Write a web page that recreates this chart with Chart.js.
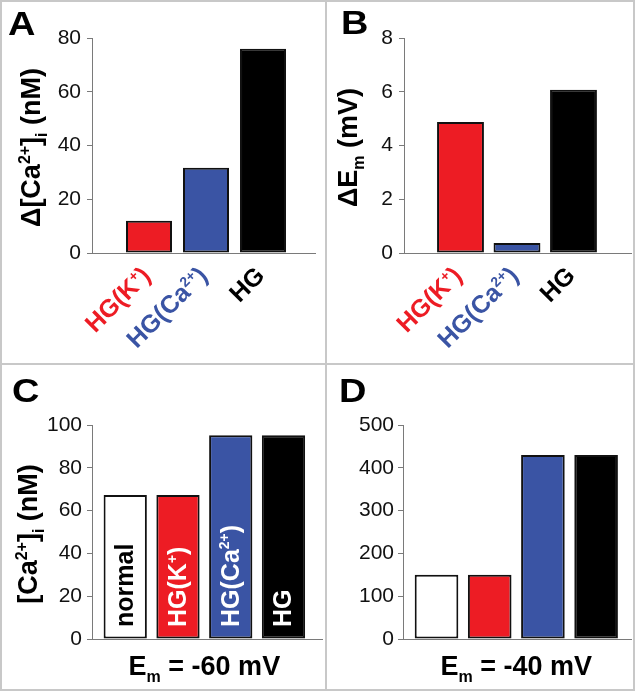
<!DOCTYPE html>
<html><head><meta charset="utf-8">
<script src="https://cdn.jsdelivr.net/npm/chart.js@4"></script>
<style>
html,body{margin:0;padding:0;background:#fff;}
#fig{position:relative;width:638px;height:692px;background:#fff;overflow:hidden;}
#fig canvas{position:absolute;}
.rule{position:absolute;background:#c8c8c8;}
</style></head><body>
<div id="fig">
<canvas id="cA" width="323" height="361" style="left:2px;top:2px;width:323px;height:361px"></canvas>
<canvas id="cB" width="306" height="361" style="left:327px;top:2px;width:306px;height:361px"></canvas>
<canvas id="cC" width="323" height="324" style="left:2px;top:365px;width:323px;height:324px"></canvas>
<canvas id="cD" width="306" height="324" style="left:327px;top:365px;width:306px;height:324px"></canvas>
<div class="rule" style="left:0;top:0;width:635px;height:2px"></div>
<div class="rule" style="left:0;top:0;width:2px;height:691px"></div>
<div class="rule" style="left:633px;top:0;width:2px;height:691px"></div>
<div class="rule" style="left:0;top:689px;width:635px;height:2px"></div>
<div class="rule" style="left:325px;top:0;width:2px;height:691px"></div>
<div class="rule" style="left:0;top:363px;width:635px;height:2px"></div>
</div>
<script>
// ---------------- data ----------------
const categoriesAB = ['HG(K^{+})', 'HG(Ca^{2+})', 'HG'];
const categoriesCD = ['normal', 'HG(K^{+})', 'HG(Ca^{2+})', 'HG'];
const deltaCaValues = [12, 31.7, 76];          // panel A, nM
const deltaEmValues = [4.87, 0.37, 6.07];      // panel B, mV
const caAtMinus60Values = [67.3, 67.3, 95.2, 95.2];  // panel C, nM
const caAtMinus40Values = [150, 150, 430, 430];      // panel D, nM
const ticksA = [0, 20, 40, 60, 80];
const ticksB = [0, 2, 4, 6, 8];
const ticksC = [0, 20, 40, 60, 80, 100];
const ticksD = [0, 100, 200, 300, 400, 500];
const yTitleA = 'Δ[Ca^{2+}]_{i} (nM)';
const yTitleB = 'ΔE_{m} (mV)';
const yTitleC = '[Ca^{2+}]_{i} (nM)';
const xTitleC = 'E_{m} = -60 mV';
const xTitleD = 'E_{m} = -40 mV';
const panelLetters = ['A', 'B', 'C', 'D'];

// ---------------- style ----------------
const FAMILY = '"Liberation Sans", Arial, "DejaVu Sans", sans-serif';
const AXIS = '#7a7a7a';
const colorsAB = ['#ED1C24', '#3A54A4', '#000000'];
const colorsCD = ['#FFFFFF', '#ED1C24', '#3A54A4', '#000000'];
const labelColorsAB = ['#ED1C24', '#3A54A4', '#000000'];
const innerLabelColorsCD = ['#000000', '#FFFFFF', '#FFFFFF', '#FFFFFF'];

function parseRich(s) {
  const segs = [];
  const re = /\^\{([^}]*)\}|_\{([^}]*)\}|([^^_]+)/g;
  let m;
  while ((m = re.exec(s))) {
    if (m[1] !== undefined) segs.push({t: m[1], sup: true});
    else if (m[2] !== undefined) segs.push({t: m[2], sub: true});
    else segs.push({t: m[3]});
  }
  return segs;
}
function fontFor(s, size) {
  const sz = (s.sup || s.sub) ? Math.round(size * 0.58) : size;
  return 'bold ' + sz + 'px ' + FAMILY;
}
function richWidth(ctx, segs, size) {
  let w = 0;
  for (const s of segs) { ctx.font = fontFor(s, size); w += ctx.measureText(s.t).width; }
  return w;
}
function drawRich(ctx, text, size, color, align) {
  const segs = parseRich(text);
  const w = richWidth(ctx, segs, size);
  let x = align === 'right' ? -w : (align === 'center' ? -w / 2 : 0);
  ctx.fillStyle = color;
  ctx.textAlign = 'left';
  ctx.textBaseline = 'alphabetic';
  for (const s of segs) {
    ctx.font = fontFor(s, size);
    const dy = s.sup ? -size * 0.37 : (s.sub ? size * 0.26 : 0);
    ctx.fillText(s.t, x, dy);
    x += ctx.measureText(s.t).width;
  }
}

const panelDecor = {
  id: 'panelDecor',
  afterDraw(chart, args, o) {
    const ctx = chart.ctx;
    const area = chart.chartArea;
    const xs = chart.scales.x;
    const labels = chart.data.labels;
    ctx.save();
    // panel letter
    ctx.save();
    ctx.translate(o.letterX, o.letterY);
    ctx.scale(1.15, 1);
    ctx.font = 'bold 33px ' + FAMILY;
    ctx.fillStyle = '#000';
    ctx.textAlign = 'left';
    ctx.textBaseline = 'alphabetic';
    ctx.fillText(o.letter, 0, 0);
    ctx.restore();
    // y title
    if (o.yTitle) {
      ctx.save();
      ctx.translate(o.yTitleX, (area.top + area.bottom) / 2 + 2);
      ctx.rotate(-Math.PI / 2);
      drawRich(ctx, o.yTitle, 27, '#000', 'center');
      ctx.restore();
    }
    // x title
    if (o.xTitle) {
      const cx = (xs.getPixelForValue(0) + xs.getPixelForValue(labels.length - 1)) / 2;
      ctx.save();
      ctx.translate(cx, o.xTitleY);
      drawRich(ctx, o.xTitle, 27, '#000', 'center');
      ctx.restore();
    }
    // category labels
    labels.forEach((lab, i) => {
      const x = xs.getPixelForValue(i);
      ctx.save();
      if (o.labelMode === 'rotated') {
        ctx.translate(x + o.rotDx, area.bottom + o.rotDy);
        ctx.rotate(-Math.PI / 4);
        drawRich(ctx, lab, 25, o.labelColors[i], 'right');
      } else if (o.labelMode === 'inside') {
        ctx.translate(x + o.innerDx, area.bottom - o.innerDy);
        ctx.rotate(-Math.PI / 2);
        drawRich(ctx, lab, 25, o.labelColors[i], 'left');
      }
      ctx.restore();
    });
    ctx.restore();
  }
};

function makeChart(id, p) {
  return new Chart(document.getElementById(id), {
    type: 'bar',
    data: {
      labels: p.categories,
      datasets: [{
        data: p.values,
        backgroundColor: p.colors,
        borderColor: '#111',
        borderWidth: 2,
        borderSkipped: false,
        barPercentage: p.barPct,
        categoryPercentage: 1
      }]
    },
    options: {
      responsive: false,
      animation: false,
      devicePixelRatio: 1,
      layout: {padding: {top: p.top, right: p.padRight, left: 0, bottom: 0}},
      plugins: {legend: {display: false}, tooltip: {enabled: false}, panelDecor: p.decor},
      scales: {
        x: {
          type: 'category',
          offset: true,
          grid: {display: false},
          border: {display: true, color: AXIS, width: 1},
          ticks: {display: false},
          afterBuildTicks: s => { s._startValue = p.xStart; s._valueRange = p.xRange; },
          afterFit: s => { s.height = p.xHeight; }
        },
        y: {
          min: p.ticks[0],
          max: p.ticks[p.ticks.length - 1],
          afterBuildTicks: s => { s.ticks = p.ticks.map(v => ({value: v})); },
          grid: {drawOnChartArea: false, drawTicks: true, tickLength: 5, color: AXIS, lineWidth: 1},
          border: {display: true, color: AXIS, width: 1},
          ticks: {font: {family: FAMILY, size: 21}, color: '#111', padding: p.tickPad},
          afterFit: s => { s.width = p.left; }
        }
      }
    },
    plugins: [panelDecor]
  });
}

makeChart('cA', {
  categories: categoriesAB, values: deltaCaValues, colors: colorsAB, ticks: ticksA,
  top: 36, left: 90, padRight: 10, xHeight: 110, tickPad: 6,
  xStart: -1.0, xRange: 3.912, barPct: 0.807,
  decor: {letter: panelLetters[0], letterX: 6, letterY: 33, yTitle: yTitleA, yTitleX: 38,
          labelMode: 'rotated', labelColors: labelColorsAB, rotDx: 3, rotDy: 24}
});
makeChart('cB', {
  categories: categoriesAB, values: deltaEmValues, colors: colorsAB, ticks: ticksB,
  top: 36, left: 77, padRight: 2, xHeight: 110, tickPad: 6,
  xStart: -1.0, xRange: 4.018, barPct: 0.83,
  decor: {letter: panelLetters[1], letterX: 14, letterY: 32, yTitle: yTitleB, yTitleX: 30,
          labelMode: 'rotated', labelColors: labelColorsAB, rotDx: 3, rotDy: 24}
});
makeChart('cC', {
  categories: categoriesCD, values: caAtMinus60Values, colors: colorsCD, ticks: ticksC,
  top: 60, left: 90, padRight: 3, xHeight: 50, tickPad: 5,
  xStart: -0.63, xRange: 4.36, barPct: 0.82,
  decor: {letter: panelLetters[2], letterX: 10, letterY: 37, yTitle: yTitleC, yTitleX: 35,
          xTitle: xTitleC, xTitleY: 310,
          labelMode: 'inside', labelColors: innerLabelColorsCD, innerDx: 8, innerDy: 12}
});
makeChart('cD', {
  categories: categoriesCD, values: caAtMinus40Values, colors: colorsCD, ticks: ticksD,
  top: 60, left: 76, padRight: 2, xHeight: 50, tickPad: 4,
  xStart: -0.63, xRange: 4.286, barPct: 0.82,
  decor: {letter: panelLetters[3], letterX: 12, letterY: 37,
          xTitle: xTitleD, xTitleY: 310, labelMode: 'none', labelColors: []}
});
</script>
</body></html>
